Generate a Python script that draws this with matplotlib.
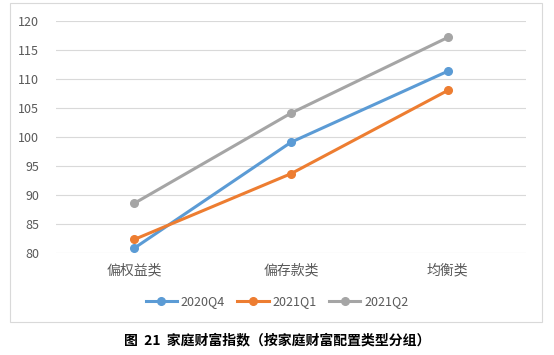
import matplotlib.pyplot as plt
from matplotlib.patches import Rectangle

plt.rcParams['font.family'] = ['Noto Sans CJK SC', 'DejaVu Sans']

categories = ["偏权益类", "偏存款类", "均衡类"]
q2020q4 = [80.9, 99.1, 111.3]
q2021q1 = [82.4, 93.7, 108.0]
q2021q2 = [88.6, 104.1, 117.1]
series_labels = ["2020Q4", "2021Q1", "2021Q2"]
colors = ["#5B9BD5", "#ED7D31", "#A5A5A5"]
y_ticks = [80, 85, 90, 95, 100, 105, 110, 115, 120]

fig = plt.figure(figsize=(5.54, 3.55), dpi=100)

# chart frame
fig.patches.append(Rectangle((10 / 554, 1 - 322 / 355), 532 / 554, 319 / 355,
                             transform=fig.transFigure, fill=False,
                             edgecolor="#D9D9D9", linewidth=0.8))

ax = fig.add_axes([0.1007, 0.286, 0.849, 0.656])
x = list(range(len(categories)))
for vals, lab, c in zip([q2020q4, q2021q1, q2021q2], series_labels, colors):
    ax.plot(x, vals, color=c, linewidth=2.2, marker="o", markersize=5.5, label=lab)

ax.set_xlim(-0.5, 2.5)
ax.set_ylim(80, 120)
ax.set_yticks(y_ticks)
ax.set_xticks(x)
ax.set_xticklabels(categories)
ax.grid(axis="y", color="#D9D9D9", linewidth=0.8)
ax.set_axisbelow(True)
for s in ax.spines.values():
    s.set_visible(False)
ax.tick_params(axis="both", length=0, colors="#595959", labelsize=9)
ax.tick_params(axis="y", pad=12)
ax.tick_params(axis="x", pad=7, labelsize=10)

fig.legend(loc="center", bbox_to_anchor=(0.5, 1 - 302 / 355), ncol=3, frameon=False,
           fontsize=9, labelcolor="#595959", handlelength=2.5, columnspacing=1.0,
           handletextpad=0.3)

fig.text(0.5, 1 - 340 / 355, "图  21  家庭财富指数（按家庭财富配置类型分组）",
         ha="center", va="center", fontsize=10, fontweight="bold", color="#000000")

fig.savefig("out.png", dpi=100)
